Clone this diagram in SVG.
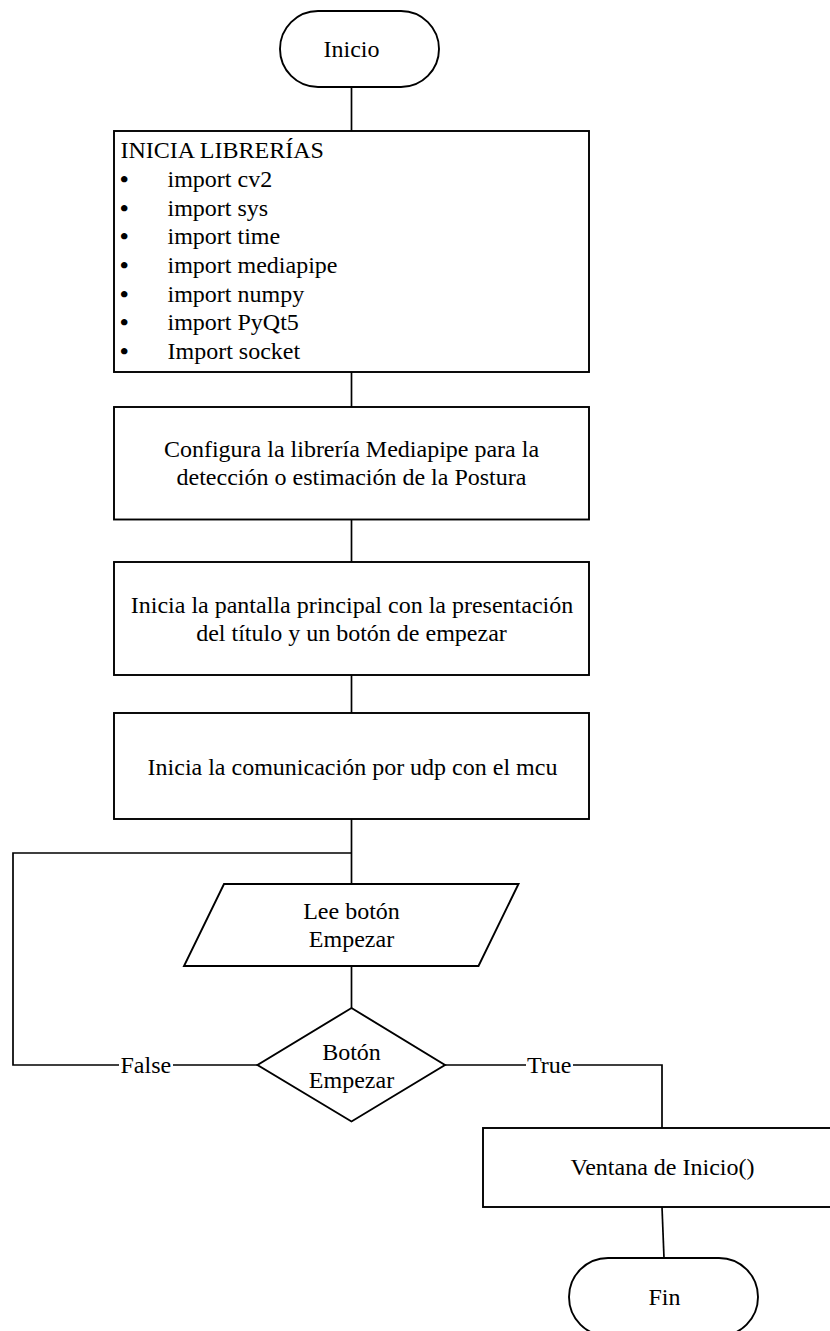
<svg xmlns="http://www.w3.org/2000/svg" width="830" height="1331" viewBox="0 0 830 1331">
  <style>
    .shape { fill: #ffffff; stroke: #000000; stroke-width: 1.9; }
    .conn { fill: none; stroke: #000000; stroke-width: 1.7; }
    text { font-family: "Liberation Serif", "Times New Roman", serif; font-size: 24px; fill: #000000; }
    .c { text-anchor: middle; }
    .b { font-weight: bold; }
    .lbl-bg { fill: #ffffff; stroke: none; }
  </style>
  <rect x="0" y="0" width="830" height="1331" fill="#ffffff"/>

  <!-- connectors -->
  <g id="connectors">
    <line class="conn" x1="351.5" y1="87" x2="351.5" y2="131"/>
    <line class="conn" x1="351.5" y1="372" x2="351.5" y2="407"/>
    <line class="conn" x1="351.5" y1="519.5" x2="351.5" y2="562"/>
    <line class="conn" x1="351.5" y1="675" x2="351.5" y2="713"/>
    <line class="conn" x1="351.5" y1="819" x2="351.5" y2="884"/>
    <line class="conn" x1="351.5" y1="966" x2="351.5" y2="1008"/>
    <!-- False branch loops back above the input step -->
    <polyline class="conn" points="257,1065 13,1065 13,853 351.5,853"/>
    <!-- True branch -->
    <polyline class="conn" points="445,1065 662,1065 662,1128"/>
    <line class="conn" x1="662" y1="1207" x2="664" y2="1258"/>
    <rect class="lbl-bg" x="119" y="1052" width="54" height="26"/>
    <text x="120.5" y="1073">False</text>
    <rect class="lbl-bg" x="526" y="1052" width="47" height="26"/>
    <text x="527" y="1073">True</text>
  </g>

  <g id="inicio">
    <rect class="shape" x="280" y="11" width="159" height="76" rx="38" ry="38"/>
    <text class="c" x="351.5" y="57">Inicio</text>
  </g>

  <g id="librerias">
    <rect class="shape" x="114" y="131" width="475" height="241"/>
    <text x="120.5" y="158">INICIA LIBRERÍAS</text>
    <text class="b" x="120" y="187">•</text><text x="167.5" y="187">import cv2</text>
    <text class="b" x="120" y="215.7">•</text><text x="167.5" y="215.7">import sys</text>
    <text class="b" x="120" y="244.4">•</text><text x="167.5" y="244.4">import time</text>
    <text class="b" x="120" y="273">•</text><text x="167.5" y="273">import mediapipe</text>
    <text class="b" x="120" y="301.7">•</text><text x="167.5" y="301.7">import numpy</text>
    <text class="b" x="120" y="330.4">•</text><text x="167.5" y="330.4">import PyQt5</text>
    <text class="b" x="120" y="359">•</text><text x="167.5" y="359">Import socket</text>
  </g>

  <g id="configura">
    <rect class="shape" x="114" y="407" width="475" height="112.5"/>
    <text class="c" x="351.5" y="456.5">Configura la librería Mediapipe para la</text>
    <text class="c" x="351.5" y="485">detección o estimación de la Postura</text>
  </g>

  <g id="pantalla">
    <rect class="shape" x="114" y="562" width="475" height="113"/>
    <text class="c" x="352" y="612.5">Inicia la pantalla principal con la presentación</text>
    <text class="c" x="351.5" y="640.5">del título y un botón de empezar</text>
  </g>

  <g id="comunicacion">
    <rect class="shape" x="114" y="713" width="475" height="106"/>
    <text class="c" x="352.5" y="775">Inicia la comunicación por udp con el mcu</text>
  </g>

  <g id="lee-boton">
    <polygon class="shape" points="224,884 518.5,884 478.5,966 184,966"/>
    <text class="c" x="351.5" y="919">Lee botón</text>
    <text class="c" x="351.5" y="947">Empezar</text>
  </g>

  <g id="decision">
    <polygon class="shape" points="351.5,1008 445,1065 351.5,1121.5 257.5,1065"/>
    <text class="c" x="351.5" y="1060">Botón</text>
    <text class="c" x="351.5" y="1088">Empezar</text>
  </g>

  <g id="ventana">
    <rect class="shape" x="483" y="1128" width="360" height="79"/>
    <text class="c" x="662.5" y="1175">Ventana de Inicio()</text>
  </g>

  <g id="fin">
    <rect class="shape" x="569" y="1258" width="189" height="78" rx="39" ry="39"/>
    <text class="c" x="664.5" y="1305">Fin</text>
  </g>
</svg>
